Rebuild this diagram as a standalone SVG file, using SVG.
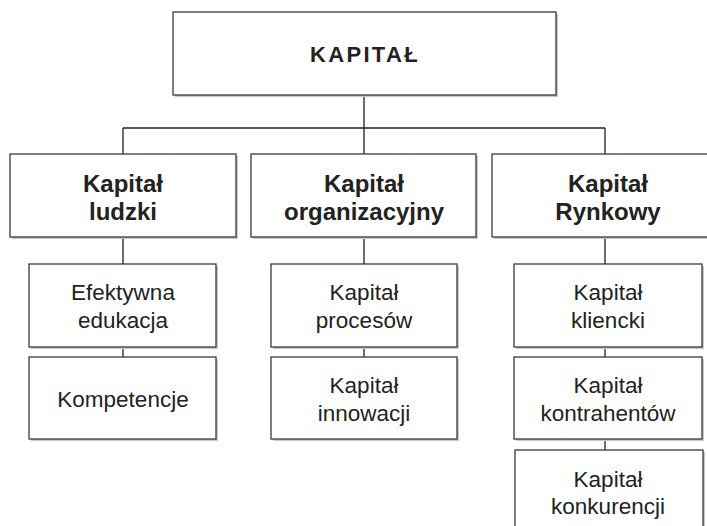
<svg xmlns="http://www.w3.org/2000/svg" width="707" height="526" viewBox="0 0 707 526">
<style>
.sh{fill:#c9c9c9;stroke:none}
.bx{fill:#fff;stroke:#3a3a3a;stroke-width:1.3}
.c{fill:none;stroke:#222;stroke-width:1.3}
.t0{font-family:"Liberation Sans",Arial,sans-serif;font-weight:bold;font-size:22px;letter-spacing:2.3px;fill:#222;text-anchor:middle}
.t1{font-family:"Liberation Sans",Arial,sans-serif;font-weight:bold;font-size:24px;fill:#222;text-anchor:middle}
.t2{font-family:"Liberation Sans",Arial,sans-serif;font-size:22.5px;fill:#222;text-anchor:middle}
</style>
<rect width="707" height="526" fill="#fff"/>
<g id="connectors">
<path class="c" d="M364 95V128M123 128H605M123 128V154M364 128V154M605 128V154"/>
<path class="c" d="M123 237V264M364 237V264M605 237V264"/>
<path class="c" d="M123 347V357M364 347V357M605 347V357M605 439V450"/>
</g>
<g id="kapital">
<rect class="sh" x="175" y="14" width="383" height="83"/>
<rect class="bx" x="173" y="12" width="383" height="83"/>
<text class="t0" x="365" y="62">KAPITAŁ</text>
</g>
<g id="ludzki">
<rect class="sh" x="12" y="156" width="226" height="83"/>
<rect class="bx" x="10" y="154" width="226" height="83"/>
<text class="t1" x="123" y="192">Kapitał</text>
<text class="t1" x="123" y="220">ludzki</text>
</g>
<g id="organizacyjny">
<rect class="sh" x="253" y="156" width="225" height="83"/>
<rect class="bx" x="251" y="154" width="225" height="83"/>
<text class="t1" x="364" y="192">Kapitał</text>
<text class="t1" x="364" y="220">organizacyjny</text>
</g>
<g id="rynkowy">
<rect class="sh" x="494" y="156" width="232" height="83"/>
<rect class="bx" x="492" y="154" width="232" height="83"/>
<text class="t1" x="608" y="192">Kapitał</text>
<text class="t1" x="608" y="220">Rynkowy</text>
</g>
<g id="efektywna">
<rect class="sh" x="31" y="266" width="187" height="83"/>
<rect class="bx" x="29" y="264" width="187" height="83"/>
<text class="t2" x="123" y="300">Efektywna</text>
<text class="t2" x="123" y="328">edukacja</text>
</g>
<g id="kompetencje">
<rect class="sh" x="31" y="359" width="187" height="82"/>
<rect class="bx" x="29" y="357" width="187" height="82"/>
<text class="t2" x="123" y="407">Kompetencje</text>
</g>
<g id="procesow">
<rect class="sh" x="273" y="266" width="186" height="83"/>
<rect class="bx" x="271" y="264" width="186" height="83"/>
<text class="t2" x="364" y="300">Kapitał</text>
<text class="t2" x="364" y="328">procesów</text>
</g>
<g id="innowacji">
<rect class="sh" x="273" y="359" width="186" height="82"/>
<rect class="bx" x="271" y="357" width="186" height="82"/>
<text class="t2" x="364" y="393">Kapitał</text>
<text class="t2" x="364" y="421">innowacji</text>
</g>
<g id="kliencki">
<rect class="sh" x="516" y="266" width="188" height="83"/>
<rect class="bx" x="514" y="264" width="188" height="83"/>
<text class="t2" x="608" y="300">Kapitał</text>
<text class="t2" x="608" y="328">kliencki</text>
</g>
<g id="kontrahentow">
<rect class="sh" x="516" y="359" width="188" height="82"/>
<rect class="bx" x="514" y="357" width="188" height="82"/>
<text class="t2" x="608" y="393">Kapitał</text>
<text class="t2" x="608" y="421">kontrahentów</text>
</g>
<g id="konkurencji">
<rect class="sh" x="517" y="452" width="188" height="90"/>
<rect class="bx" x="515" y="450" width="188" height="90"/>
<text class="t2" x="608" y="487">Kapitał</text>
<text class="t2" x="608" y="514">konkurencji</text>
</g>
</svg>
